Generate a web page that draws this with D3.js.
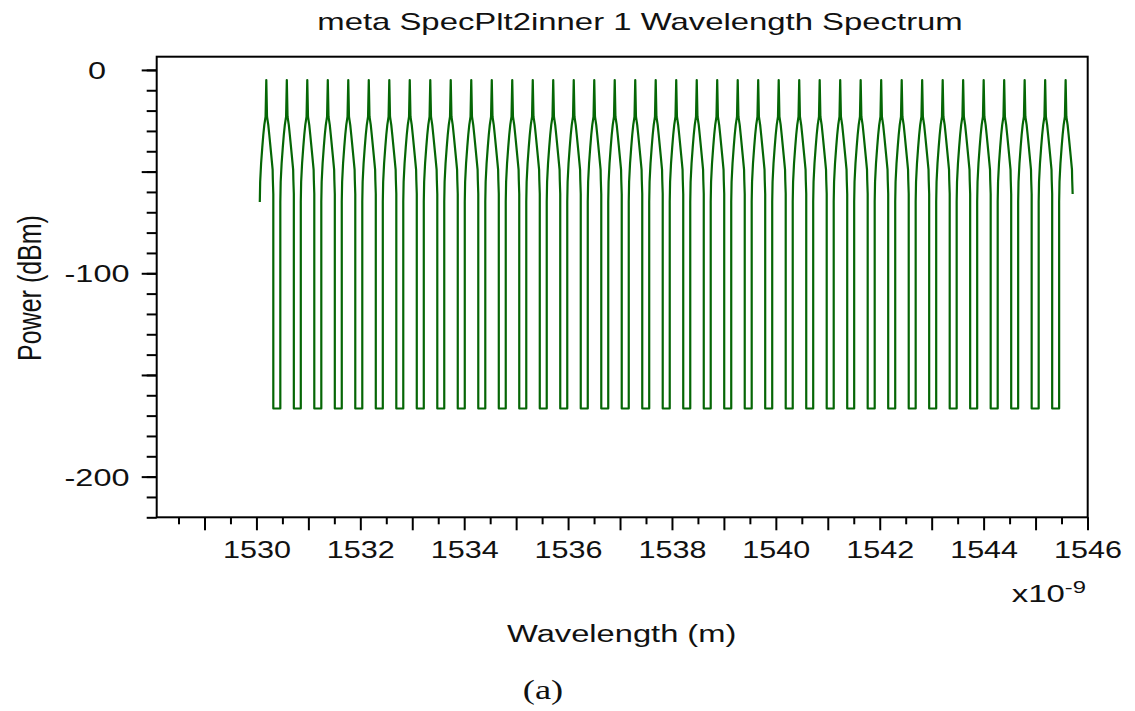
<!DOCTYPE html>
<html>
<head>
<meta charset="utf-8">
<script src="https://cdn.jsdelivr.net/npm/d3@7"></script>
<style>
  html, body { margin: 0; padding: 0; background: #ffffff; }
  svg { display: block; }
  text { font-family: "Liberation Sans", Arial, Helvetica, sans-serif; fill: #111; }
</style>
</head>
<body>
<svg id="chart" width="1135" height="711"></svg>
<script>
// Channel centre wavelengths (nm) of the 40-channel comb
const channelCenters = [
  1530.190, 1530.585, 1530.979, 1531.374, 1531.768, 1532.163, 1532.558, 1532.952,
  1533.347, 1533.741, 1534.136, 1534.531, 1534.925, 1535.320, 1535.714, 1536.109,
  1536.504, 1536.898, 1537.293, 1537.687, 1538.082, 1538.477, 1538.871, 1539.266,
  1539.660, 1540.055, 1540.450, 1540.844, 1541.239, 1541.633, 1542.028, 1542.423,
  1542.817, 1543.212, 1543.606, 1544.001, 1544.396, 1544.790, 1545.185, 1545.579
];
// Power profile of one channel: offset from centre (nm) and power (dBm)
const profileOffset = [-0.125, -0.118, -0.100, -0.077, -0.058, -0.038, -0.014, 0, 0.014, 0.038, 0.058, 0.077, 0.096, 0.122, 0.126, 0.135];
const profilePower  = [-65,    -55,    -46,    -38,    -32,    -27,    -23,   -5, -23,   -27,   -32,   -37,   -42,   -49,   -54,   -61];
// Noise floor between channels (dBm)
const floorPower = [-166.5];

// Axis ticks and labels
const xTickLabels = [1530, 1532, 1534, 1536, 1538, 1540, 1542, 1544, 1546];
const xMajorTicks = d3.range(1529, 1546.5, 1);
const xMinorTicks = d3.range(1528.5, 1546, 1);
const yTickLabels = [0, -100, -200];
const yMajorTicks = [0, -50, -100, -150, -200];
const yMinorTicks = d3.range(-220, 1, 10);

const svg = d3.select("#chart");
const frame = { left: 156.7, right: 1087.7, top: 56.7, bottom: 517.3 };

const x = d3.scaleLinear().domain([1528.08, 1546]).range([frame.left, 1087.5]);
const y = d3.scaleLinear().domain([6.5, -220]).range([frame.top, frame.bottom]);

svg.append("rect").attr("width", 1135).attr("height", 711).attr("fill", "#fff");

// Build the spectrum trace: each channel profile, joined by the floor
const trace = [];
channelCenters.forEach((c, i) => {
  if (i > 0) trace.push([c + profileOffset[0], floorPower[0]]);
  profileOffset.forEach((o, j) => trace.push([c + o, profilePower[j]]));
  if (i < channelCenters.length - 1) trace.push([c + profileOffset[profileOffset.length - 1], floorPower[0]]);
});

const line = d3.line().x(d => x(d[0])).y(d => y(d[1]));
svg.append("path")
  .datum(trace)
  .attr("d", line)
  .attr("fill", "none")
  .attr("stroke", "#056605")
  .attr("stroke-width", 2.2)
  .attr("stroke-linejoin", "round");

// Axes
function styleTicks(g) {
  g.select(".domain").remove();
  g.selectAll(".tick line").attr("stroke", "#000").attr("stroke-width", 2);
}

svg.append("g")
  .attr("transform", `translate(0,${frame.bottom})`)
  .call(d3.axisBottom(x).tickValues(xMinorTicks).tickSize(7).tickFormat(""))
  .call(styleTicks);

const xAxis = svg.append("g")
  .attr("transform", `translate(0,${frame.bottom})`)
  .call(d3.axisBottom(x).tickValues(xMajorTicks).tickSize(13)
    .tickFormat(d => xTickLabels.includes(d) ? String(d) : ""))
  .call(styleTicks);
xAxis.selectAll(".tick text")
  .attr("y", 0).attr("dy", null)
  .attr("transform", "translate(0,41) scale(1.3,1)")
  .attr("font-size", 23.5)
  .attr("font-family", "Liberation Sans, Arial, sans-serif")
  .attr("fill", "#111");

svg.append("g")
  .attr("transform", `translate(${frame.left},0)`)
  .call(d3.axisLeft(y).tickValues(yMinorTicks).tickSize(10).tickFormat(""))
  .call(styleTicks);

const yAxis = svg.append("g")
  .attr("transform", `translate(${frame.left},0)`)
  .call(d3.axisLeft(y).tickValues(yMajorTicks).tickSize(15)
    .tickFormat(d => yTickLabels.includes(d) ? String(d) : ""))
  .call(styleTicks);
yAxis.selectAll(".tick text")
  .attr("x", 0).attr("dy", "0.36em")
  .attr("text-anchor", "middle")
  .attr("transform", "translate(-59.7,0) scale(1.38,1)")
  .attr("font-size", 23.5)
  .attr("font-family", "Liberation Sans, Arial, sans-serif")
  .attr("fill", "#111");

// Plot frame
svg.append("rect")
  .attr("x", frame.left).attr("y", frame.top)
  .attr("width", frame.right - frame.left).attr("height", frame.bottom - frame.top)
  .attr("fill", "none").attr("stroke", "#000").attr("stroke-width", 2);

// Titles and labels
svg.append("text")
  .attr("transform", "translate(640,29.5) scale(1.43,1)")
  .attr("text-anchor", "middle").attr("font-size", 23)
  .text("meta SpecPlt2inner 1 Wavelength Spectrum");

svg.append("text")
  .attr("transform", "translate(621.7,641.5) scale(1.39,1)")
  .attr("text-anchor", "middle").attr("font-size", 23.5)
  .text("Wavelength (m)");

const expo = svg.append("text")
  .attr("transform", "translate(1011.7,601.5) scale(1.4,1)")
  .attr("font-size", 23.5);
expo.append("tspan").text("x10");
expo.append("tspan").attr("dy", -9).attr("font-size", 17).text("-9");

svg.append("text")
  .attr("transform", "translate(29,288) scale(1.3,1) rotate(-90)")
  .attr("text-anchor", "middle").attr("dy", "0.36em").attr("font-size", 25)
  .text("Power (dBm)");

svg.append("text")
  .attr("transform", "translate(543,699) scale(1.3,1)")
  .attr("text-anchor", "middle").attr("font-size", 28)
  .style("font-family", "'Liberation Serif', 'Times New Roman', serif")
  .text("(a)");
</script>
</body>
</html>
